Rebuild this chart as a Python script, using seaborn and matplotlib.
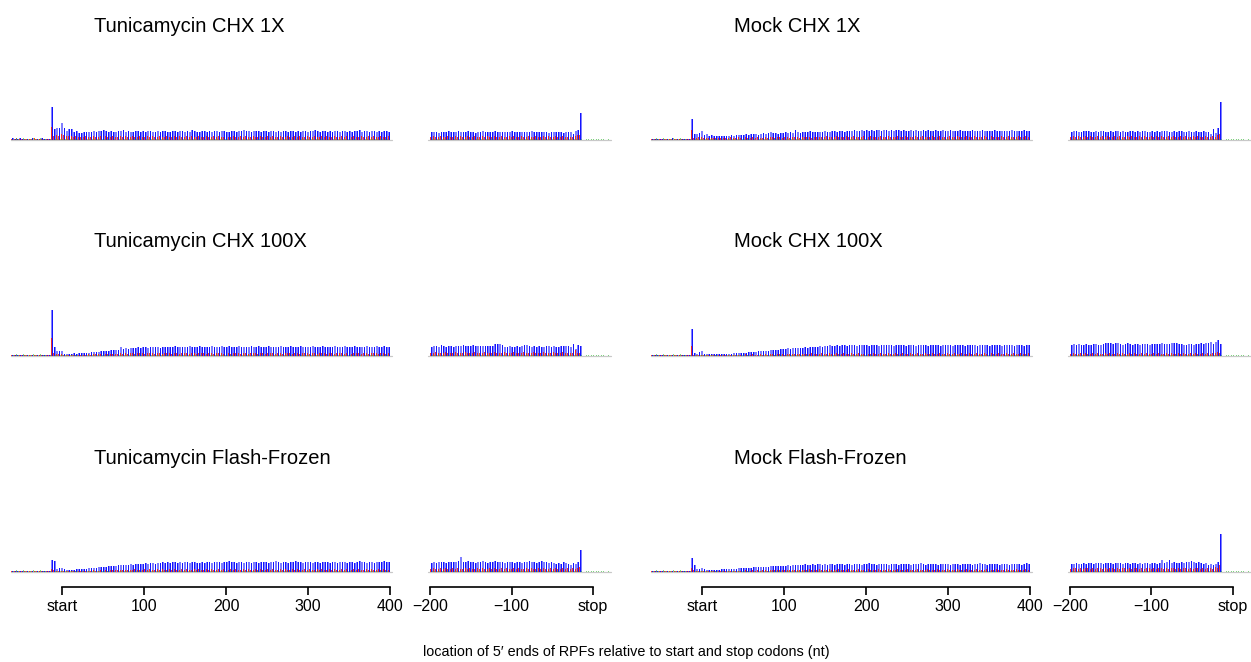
import numpy as np
import pandas as pd
import matplotlib
matplotlib.use("Agg")
import matplotlib.pyplot as plt
import seaborn as sns

# ---------------- data (per-codon footprint density, arbitrary units) ----------------
# start-aligned panels: codons c = -20 .. 133  (blue = nt 3c, red = nt 3c-1, green = nt 3c+1)
# stop-aligned panels : codons ending at c = 7 (blue = nt 3c ...)
TITLES = ["Tunicamycin CHX 1X", "Mock CHX 1X",
          "Tunicamycin CHX 100X", "Mock CHX 100X",
          "Tunicamycin Flash-Frozen", "Mock Flash-Frozen"]

START_TICKS = [0, 100, 200, 300, 400]
START_LABELS = ["start", "100", "200", "300", "400"]
STOP_TICKS = [-200, -100, 0]
STOP_LABELS = ["\u2212200", "\u2212100", "stop"]
XLABEL = "location of 5\u2032 ends of RPFs relative to start and stop codons (nt)"

GREEN_START = [1, 2, 1, 1, 2, 1, 1, 1, 2, 1, 1, 2, 1, 1, 1, 1,
               1, 1, 1, 1, 1, 1, 1, 1, 1, 1, 1, 1, 1, 1, 1, 1, 1, 1, 1, 1, 1, 1, 1, 1, 1, 1, 1, 1, 1, 1,
               1, 1, 1, 1, 1, 1, 1, 1, 1, 1, 1, 1, 1, 1, 1, 1, 1, 1, 1, 1, 1, 1, 1, 1, 1, 1, 1, 1, 1, 1,
               1, 1, 1, 1, 1, 1, 1, 1, 1, 1, 1, 1, 1, 1, 1, 1, 1, 1, 1, 1, 1, 1, 1, 1, 1, 1, 1, 1, 1, 1,
               1, 1, 1, 1, 1, 1, 1, 1, 1, 1, 1, 1, 1, 1, 1, 1, 1, 1, 1, 1, 1, 1, 1, 1, 1, 1, 1, 1, 1, 1,
               1, 1, 1, 1, 1, 1, 1, 1, 1, 1, 1, 1, 1, 1, 1, 1, 1, 1]
GREEN_STOP = [1, 1, 1, 1, 1, 1, 1, 1, 1, 1, 1, 1, 1, 1, 1, 1, 1, 1, 1, 1, 1, 1, 1, 1, 1, 1, 1, 1, 1, 1,
              1, 1, 1, 1, 1, 1, 1, 1, 1, 1, 1, 1, 1, 1, 1, 1, 1, 1, 1, 1, 1, 1, 1, 1, 1, 1, 1, 1, 1, 1,
              1, 1, 1, 1, 1, 1, 1, 1, 1, 1, 1, 1, 1, 1]

# ---- Tunicamycin CHX 1X ----
A_START_BLUE = [2, 1, 1, 2, 1, 1, 1, 1, 2, 1, 1, 1, 2, 1, 1, 1,
                33, 11, 12, 12, 17, 12, 9, 11, 11, 8, 9, 7, 7,
                8, 8, 8, 8, 9, 8, 9, 9, 10, 9, 8, 9, 8, 8, 9, 9, 10, 8, 9, 8,
                8, 9, 9, 8, 9, 8, 9, 9, 8, 8, 9, 8, 9, 9, 8, 8, 9, 9, 8, 9,
                9, 8, 9, 8, 10, 9, 8, 8, 9, 9, 8, 9, 8, 9, 9, 8, 9, 9, 8, 8,
                9, 9, 8, 9, 9, 10, 9, 9, 8, 9, 9, 9, 8, 9, 9, 8, 9, 9, 8, 9,
                8, 9, 9, 8, 9, 9, 8, 9, 8, 9, 9, 8, 9, 9, 10, 9, 8, 9, 9, 8,
                9, 8, 9, 9, 8, 9, 9, 8, 9, 8, 9, 9, 10, 8, 9, 9, 8, 9, 9, 8,
                9, 8, 9, 9, 8]
A_START_RED = [1, 1, 2, 1, 1, 1, 1, 1, 1, 2, 1, 1, 1, 1, 1, 1,
               13, 4, 5, 4, 6, 5, 4, 4, 4, 3, 4, 3, 3,
               3, 4, 3, 3, 4, 3, 3, 4, 3, 4, 3, 3, 4, 3, 3, 4, 3, 4, 3, 3,
               4, 3, 3, 4, 3, 3, 4, 3, 4, 3, 3, 4, 3, 3, 4, 3, 3, 4, 3, 4,
               3, 3, 4, 3, 4, 3, 3, 4, 3, 3, 4, 3, 3, 4, 3, 4, 3, 3, 4, 3,
               3, 4, 3, 3, 4, 3, 4, 3, 3, 4, 3, 3, 4, 3, 3, 4, 3, 4, 3, 3,
               4, 3, 3, 4, 3, 3, 4, 3, 4, 3, 3, 4, 3, 3, 4, 3, 3, 4, 3, 4,
               3, 3, 4, 3, 3, 4, 3, 4, 3, 3, 4, 3, 3, 4, 3, 3, 4, 3, 4, 3,
               3, 4, 3, 3, 4]
A_STOP_BLUE = [8, 8, 8, 7, 8, 8, 8, 9, 8, 8, 8, 9, 8, 8, 8, 9, 8, 8, 7, 8,
               8, 9, 8, 8, 8, 8, 9, 8, 8, 8, 8, 8, 8, 9, 8, 8, 8, 8, 8, 8,
               8, 9, 8, 8, 8, 8, 8, 8, 7, 8, 8, 8, 8, 8, 7, 8, 8,
               8, 6, 9, 10, 27,
               0, 0, 0, 0, 0, 0, 0, 0, 0, 0, 0, 0]
A_STOP_RED = [3, 4, 3, 3, 4, 3, 3, 4, 3, 3, 4, 3, 4, 3, 3, 4, 3, 3, 4, 3,
              3, 4, 3, 4, 3, 3, 4, 3, 3, 4, 3, 3, 4, 3, 4, 3, 3, 4, 3, 3,
              4, 3, 3, 4, 3, 3, 4, 3, 4, 3, 3, 4, 3, 3, 4, 3, 3,
              3, 3, 4, 5, 5,
              0, 0, 0, 0, 0, 0, 0, 0, 0, 0, 0, 0]

# ---- Mock CHX 1X ----
B_START_BLUE = [1, 1, 1, 1, 1, 1, 1, 1, 2, 1, 1, 1, 1, 1, 1, 1,
                21, 6, 6, 7, 9, 5, 6, 4, 5, 4, 4, 4, 4,
                4, 4, 4, 5, 4, 5, 5, 5, 5, 6, 5, 6, 6, 6, 5, 6, 7, 6, 7, 8,
                7, 7, 6, 7, 7, 8, 7, 8, 7, 10, 8, 7, 8, 8, 8, 9, 8, 8, 8, 8,
                8, 9, 8, 8, 9, 9, 8, 9, 9, 8, 9, 9, 9, 10, 9, 9, 10, 9, 10, 9,
                10, 9, 10, 10, 9, 10, 10, 9, 10, 9, 10, 10, 9, 10, 9, 9, 10, 9, 10, 9,
                9, 10, 9, 10, 9, 9, 10, 9, 9, 10, 9, 9, 10, 9, 9, 9, 10, 9, 9, 9,
                9, 10, 9, 9, 9, 10, 9, 9, 9, 9, 10, 9, 9, 9, 9, 9, 9, 10, 9, 9,
                9, 9, 10, 9, 9]
B_START_RED = [1, 1, 1, 1, 1, 1, 1, 1, 1, 1, 1, 1, 1, 1, 1, 1,
               10, 2, 2, 3, 3, 2, 2, 2, 2, 2, 2, 2, 2,
               2, 2, 2, 3, 2, 2, 3, 2, 2, 3, 2, 2, 3, 2, 3, 2, 2, 3, 2, 3,
               3, 2, 3, 3, 2, 3, 3, 2, 3, 3, 3, 2, 3, 3, 3, 3, 2, 3, 3, 3,
               3, 3, 4, 3, 3, 3, 4, 3, 3, 3, 4, 3, 3, 4, 3, 3, 3, 4, 3, 3,
               4, 3, 3, 3, 4, 3, 3, 4, 3, 3, 3, 4, 3, 3, 4, 3, 3, 3, 4, 3,
               3, 4, 3, 3, 3, 4, 3, 3, 4, 3, 3, 3, 4, 3, 3, 4, 3, 3, 3, 4,
               3, 3, 4, 3, 3, 3, 4, 3, 3, 4, 3, 3, 3, 4, 3, 3, 4, 3, 3, 3,
               4, 3, 3, 4, 3]
B_STOP_BLUE = [8, 9, 9, 8, 8, 9, 9, 9, 8, 8, 9, 8, 9, 9, 8, 8, 9, 8, 9, 9,
               8, 9, 8, 8, 9, 9, 8, 9, 8, 9, 9, 8, 8, 9, 8, 9, 8, 9, 9, 9,
               8, 8, 9, 8, 9, 9, 8, 8, 9, 8, 8, 9, 8, 8, 9, 8,
               8, 6, 11, 7, 12, 38,
               0, 0, 0, 0, 0, 0, 0, 0, 0, 0, 0, 0]
B_STOP_RED = [3, 4, 3, 4, 3, 3, 4, 3, 4, 3, 3, 4, 3, 4, 3, 4, 3, 3, 4, 3,
              4, 3, 3, 4, 3, 4, 3, 3, 4, 3, 4, 3, 3, 4, 3, 4, 3, 4, 3, 3,
              4, 3, 4, 3, 3, 4, 3, 4, 3, 3, 4, 3, 4, 3, 3, 4,
              3, 3, 4, 3, 5, 6,
              0, 0, 0, 0, 0, 0, 0, 0, 0, 0, 0, 0]

# ---- Tunicamycin CHX 100X ----
C_START_BLUE = [1, 1, 1, 1, 1, 1, 1, 1, 1, 1, 1, 1, 1, 1, 1, 1,
                46, 9, 5, 5, 5,
                2, 2, 2, 2, 3, 2, 3, 3, 3, 3, 3, 4, 4, 4, 4, 5, 5, 5, 5, 6, 6, 6, 6, 9, 7, 8, 7, 8,
                8, 8, 9, 8, 9, 9, 8, 9, 9, 9, 9, 8, 9, 9, 9, 9, 9, 10, 9, 9,
                9, 9, 9, 10, 9, 9, 9, 10, 9, 9, 9, 9, 10, 9, 9, 9, 10, 9, 9, 10,
                9, 9, 9, 10, 9, 9, 9, 9, 10, 9, 9, 10, 9, 9, 9, 10, 9, 9, 9, 9,
                10, 9, 9, 9, 10, 9, 9, 9, 10, 9, 9, 9, 9, 10, 9, 9, 9, 10, 9, 9,
                9, 9, 10, 9, 9, 9, 10, 9, 9, 9, 10, 9, 9, 9, 9, 10, 9, 9, 9, 10,
                9, 9, 10, 9, 9]
C_START_RED = [1, 1, 1, 1, 1, 1, 1, 1, 1, 1, 1, 1, 1, 1, 1, 1,
               18, 3, 2, 2, 2,
               1, 1, 1, 1, 1, 1, 1, 1, 1, 1, 2, 1, 2, 2, 2, 2, 2, 2, 2, 2, 2, 2, 2, 3, 2, 3, 2, 3,
               3, 2, 3, 3, 3, 2, 3, 3, 3, 2, 3, 3, 2, 3, 3, 3, 2, 3, 3, 2,
               3, 3, 3, 2, 3, 3, 2, 3, 3, 3, 2, 3, 3, 2, 3, 3, 3, 2, 3, 3,
               2, 3, 3, 3, 2, 3, 3, 2, 3, 3, 3, 2, 3, 3, 2, 3, 3, 3, 2, 3,
               3, 2, 3, 3, 3, 2, 3, 3, 2, 3, 3, 3, 2, 3, 3, 2, 3, 3, 3, 2,
               3, 3, 2, 3, 3, 3, 2, 3, 3, 2, 3, 3, 3, 2, 3, 3, 2, 3, 3, 3,
               2, 3, 3, 2, 3]
C_STOP_BLUE = [9, 10, 10, 9, 11, 10, 9, 10, 10, 9, 10, 10, 10, 11, 10, 10, 10, 11, 10, 10,
               10, 10, 10, 10, 10, 10, 12, 12, 12, 11, 9, 9, 10, 9, 9, 10, 9, 10, 11, 11,
               10, 9, 10, 9, 10, 9, 9, 10, 10, 9, 10, 9, 9, 10, 10, 10, 10,
               9, 12, 7, 11, 10,
               0, 0, 0, 0, 0, 0, 0, 0, 0, 0, 0, 0]
C_STOP_RED = [3, 3, 4, 3, 3, 3, 4, 3, 3, 3, 4, 3, 3, 3, 4, 3, 3, 3, 4, 3,
              3, 3, 4, 3, 3, 3, 4, 3, 3, 3, 4, 3, 3, 3, 4, 3, 3, 3, 4, 3,
              3, 3, 4, 3, 3, 3, 4, 3, 3, 3, 4, 3, 3, 3, 4, 3, 3,
              3, 3, 6, 3, 3,
              0, 0, 0, 0, 0, 0, 0, 0, 0, 0, 0, 0]

# ---- Mock CHX 100X ----
D_START_BLUE = [1, 1, 1, 1, 1, 1, 1, 1, 1, 1, 1, 1, 1, 1, 1, 1,
                27, 3, 2, 4, 5, 2,
                2, 2, 2, 2, 2, 2, 2, 2, 2, 2, 2, 3, 3, 3, 3, 3, 3, 4, 4, 4, 4, 5, 5, 5,
                5, 5, 6, 6, 6, 6, 7, 7, 7, 8, 7, 8, 8, 8, 8, 8, 9, 8, 9, 9, 9, 9, 10, 9,
                10, 10, 11, 10, 10, 11, 10, 11, 11, 10, 11, 11, 11, 10, 11, 11, 11, 11, 10, 11,
                11, 11, 10, 11, 11, 11, 11, 11, 10, 11, 11, 11, 11, 10, 11, 11, 11, 10, 11, 11,
                11, 11, 10, 11, 11, 11, 11, 10, 11, 11, 11, 11, 10, 11, 11, 11, 11, 10, 11, 11,
                11, 11, 10, 11, 11, 11, 11, 10, 11, 11, 11, 11, 10, 11, 11, 11, 11, 10, 11, 11,
                11, 10, 11, 11]
D_START_RED = [1, 1, 1, 1, 1, 1, 1, 1, 1, 1, 1, 1, 1, 1, 1, 1,
               10, 1, 1, 1, 1, 1,
               1, 1, 1, 1, 1, 1, 1, 1, 1, 1, 1, 1, 1, 1, 1, 1, 2, 1, 1, 2, 1, 1, 2, 1,
               2, 1, 2, 2, 1, 2, 2, 2, 1, 2, 2, 2, 2, 2, 2, 2, 2, 2, 2, 3, 2, 2, 2, 3,
               2, 2, 3, 2, 2, 3, 2, 2, 3, 2, 2, 3, 2, 2, 3, 2, 2, 3, 2, 2,
               3, 2, 2, 3, 2, 2, 3, 2, 2, 3, 2, 2, 3, 2, 2, 3, 2, 2, 3, 2,
               2, 3, 2, 2, 3, 2, 2, 3, 2, 2, 3, 2, 2, 3, 2, 2, 3, 2, 2, 3,
               2, 2, 3, 2, 2, 3, 2, 2, 3, 2, 2, 3, 2, 2, 3, 2, 2, 3, 2, 2,
               3, 2, 2, 3]
D_STOP_BLUE = [11, 12, 11, 12, 11, 11, 12, 11, 11, 12, 12, 11, 11, 12, 13, 13, 13, 12, 13, 13,
               12, 11, 12, 13, 12, 11, 12, 12, 11, 12, 12, 12, 11, 12, 12, 12, 12, 13, 12, 12,
               12, 13, 13, 13, 12, 12, 11, 11, 12, 12, 11, 12, 12, 13, 12, 13, 13, 14,
               12, 14, 16, 12,
               0, 0, 0, 0, 0, 0, 0, 0, 0, 0, 0, 0]
D_STOP_RED = [2, 3, 2, 2, 3, 2, 3, 2, 2, 3, 2, 3, 2, 2, 3, 2, 3, 2, 2, 3,
              2, 3, 2, 2, 3, 2, 3, 2, 2, 3, 2, 3, 2, 2, 3, 2, 3, 2, 2, 3,
              2, 3, 2, 2, 3, 2, 3, 2, 2, 3, 2, 3, 2, 2, 3, 2, 3, 2,
              3, 3, 4, 3,
              0, 0, 0, 0, 0, 0, 0, 0, 0, 0, 0, 0]

# ---- Tunicamycin Flash-Frozen ----
E_START_BLUE = [1, 1, 1, 1, 1, 1, 1, 1, 1, 1, 1, 1, 1, 1, 1, 1,
                12, 11, 3, 4, 4, 3, 2,
                2, 2, 2, 3, 3, 3, 3, 3, 4, 4, 4, 4, 5, 5, 5, 5, 6, 6, 6, 6,
                7, 7, 7, 7, 7, 8, 7, 8, 8, 8, 8, 9, 8,
                9, 9, 8, 9, 9, 10, 9, 10, 9, 10, 10, 9, 10, 9, 10, 10, 9, 10, 10, 9,
                9, 10, 9, 10, 10, 9, 10, 10, 10, 9, 10, 10, 11, 10, 10, 9, 10, 10, 9, 10,
                10, 9, 10, 10, 9, 10, 10, 10, 9, 10, 10, 11, 10, 9, 10, 10, 9, 10, 10, 11,
                10, 10, 9, 10, 10, 10, 9, 10, 10, 9, 10, 10, 10, 9, 10, 10, 9, 10, 10, 10,
                9, 10, 10, 9, 10, 11, 10, 10, 9, 10, 10, 9, 10, 10, 10, 11, 10, 10]
E_START_RED = [1, 1, 1, 1, 1, 1, 1, 1, 1, 1, 1, 1, 1, 1, 1, 1,
               3, 2, 1, 1, 1, 1, 1,
               1, 1, 1, 1, 1, 1, 1, 1, 1, 1, 2, 1, 1, 2, 1, 2, 1, 2, 2, 2,
               2, 2, 2, 2, 2, 2, 2, 3, 2, 2, 2, 3, 2,
               3, 2, 2, 3, 2, 3, 2, 2, 3, 2, 3, 2, 2, 3, 2, 3, 2, 2, 3, 2,
               3, 2, 2, 3, 2, 3, 2, 2, 3, 2, 3, 2, 2, 3, 2, 3, 2, 2, 3, 2,
               3, 2, 2, 3, 2, 3, 2, 2, 3, 2, 3, 2, 2, 3, 2, 3, 2, 2, 3, 2,
               3, 2, 2, 3, 2, 3, 2, 2, 3, 2, 3, 2, 2, 3, 2, 3, 2, 2, 3, 2,
               3, 2, 2, 3, 2, 3, 2, 2, 3, 2, 3, 2, 2, 3, 2, 3, 2, 2]
E_STOP_BLUE = [9, 10, 9, 10, 10, 10, 9, 10, 10, 10, 10, 11, 15, 10, 10, 11, 10, 10, 9, 10,
               10, 11, 10, 9, 10, 10, 11, 10, 10, 10, 9, 10, 10, 10, 9, 10, 10, 9, 10, 10,
               11, 10, 10, 9, 10, 11, 10, 10, 9, 10, 9, 8, 9, 8, 10, 9, 8,
               7, 9, 8, 10, 22,
               0, 0, 0, 0, 0, 0, 0, 0, 0, 0, 0, 0]
E_STOP_RED = [3, 4, 3, 3, 4, 3, 4, 3, 3, 4, 3, 4, 3, 3, 4, 3, 4, 3, 3, 4,
              3, 4, 3, 3, 4, 3, 4, 3, 3, 4, 3, 4, 3, 3, 4, 3, 4, 3, 3, 4,
              3, 4, 3, 3, 4, 3, 4, 3, 3, 4, 3, 4, 3, 3, 4, 3, 4,
              3, 4, 3, 4, 5,
              0, 0, 0, 0, 0, 0, 0, 0, 0, 0, 0, 0]

# ---- Mock Flash-Frozen ----
F_START_BLUE = [1, 1, 1, 1, 1, 1, 1, 1, 1, 1, 1, 1, 1, 1, 1, 1,
                14, 7, 3, 3, 4, 3,
                2, 2, 2, 2, 2, 2, 3, 3, 3, 3, 3, 3, 3, 4, 4, 4, 4, 4, 4, 5,
                5, 5, 5, 5, 5, 5, 6, 6, 6, 6, 6, 6, 6, 7, 6, 7, 7, 7, 7,
                7, 8, 7, 7, 8, 7, 8, 8, 7, 8, 7, 8, 8, 7, 8, 8, 8, 7, 8, 8,
                7, 8, 8, 8, 7, 8, 8, 9, 8, 8, 7, 8, 8, 8, 8, 7, 8, 8, 8, 7,
                8, 8, 8, 8, 7, 8, 8, 8, 9, 8, 7, 8, 8, 8, 8, 7, 8, 8, 8, 8,
                7, 8, 8, 8, 7, 8, 8, 8, 8, 7, 8, 8, 9, 8, 8, 7, 8, 8, 8, 8,
                7, 8, 8, 8, 7, 8, 8, 8, 8, 7, 8, 9, 8]
F_START_RED = [1, 1, 1, 1, 1, 1, 1, 1, 1, 1, 1, 1, 1, 1, 1, 1,
               4, 2, 1, 1, 1, 1,
               1, 1, 1, 1, 1, 1, 1, 1, 1, 1, 1, 1, 1, 1, 1, 1, 2, 1, 1, 2,
               1, 2, 1, 2, 2, 1, 2, 2, 2, 2, 2, 2, 2, 2, 2, 2, 2, 2, 2,
               2, 2, 2, 3, 2, 2, 2, 3, 2, 2, 2, 3, 2, 2, 2, 3, 2, 2, 2, 3,
               2, 2, 2, 3, 2, 2, 2, 3, 2, 2, 2, 3, 2, 2, 2, 3, 2, 2, 2, 3,
               2, 2, 2, 3, 2, 2, 2, 3, 2, 2, 2, 3, 2, 2, 2, 3, 2, 2, 2, 3,
               2, 2, 2, 3, 2, 2, 2, 3, 2, 2, 2, 3, 2, 2, 2, 3, 2, 2, 2, 3,
               2, 2, 2, 3, 2, 2, 2, 3, 2, 2, 2, 3, 2]
F_STOP_BLUE = [8, 8, 9, 8, 8, 9, 8, 9, 9, 8, 9, 9, 9, 8, 9, 9, 9, 8, 9, 9,
               9, 8, 9, 9, 8, 9, 9, 8, 9, 8, 9, 9, 8, 9, 9, 8, 9, 12, 9, 10,
               12, 9, 10, 9, 9, 10, 9, 10, 10, 11, 10, 9, 10, 9, 8, 9, 7,
               8, 7, 8, 10, 38,
               0, 0, 0, 0, 0, 0, 0, 0, 0, 0, 0, 0]
F_STOP_RED = [3, 4, 4, 3, 4, 3, 4, 4, 3, 4, 3, 4, 4, 3, 4, 3, 4, 4, 3, 4,
              3, 4, 4, 3, 4, 3, 4, 4, 3, 4, 3, 4, 4, 3, 4, 3, 4, 4, 3, 4,
              3, 4, 4, 3, 4, 3, 4, 4, 3, 4, 3, 4, 4, 3, 4, 3, 4,
              4, 3, 5, 4, 7,
              0, 0, 0, 0, 0, 0, 0, 0, 0, 0, 0, 0]

PANELS = [
    (A_START_BLUE, A_START_RED, A_STOP_BLUE, A_STOP_RED),
    (B_START_BLUE, B_START_RED, B_STOP_BLUE, B_STOP_RED),
    (C_START_BLUE, C_START_RED, C_STOP_BLUE, C_STOP_RED),
    (D_START_BLUE, D_START_RED, D_STOP_BLUE, D_STOP_RED),
    (E_START_BLUE, E_START_RED, E_STOP_BLUE, E_STOP_RED),
    (F_START_BLUE, F_START_RED, F_STOP_BLUE, F_STOP_RED),
]

# ---------------- styling / layout ----------------
sns.set_theme(style="ticks")
plt.rcParams["font.family"] = ["Liberation Sans", "DejaVu Sans"]

W, H = 1251, 662
fig = plt.figure(figsize=(W / 100, H / 100), dpi=100)

BLUE = "#0000ff"
RED = "#ff2200"
GREEN = "#33bb33"
YMAX = 60           # axes height 60 px
ROW_BASE = [140, 355.7, 572]
COL_OFF = [0, 640]
START_XLIM = (-62, 402)
STOP_XLIM = (-202, 22)
START_PX0, START_K = 62.0, 0.82   # pixel of nt 0 and px per nt
STOP_PX0, STOP_K = 593.0, 0.815


def make_axes(px0, k, xlim, off, base):
    x0 = px0 + k * xlim[0] + off
    x1 = px0 + k * xlim[1] + off
    return fig.add_axes([x0 / W, 1 - base / H, (x1 - x0) / W, YMAX / H])


def bars(ax, pos, vals, color, width, alpha, z):
    d = pd.DataFrame({"pos": pos, "v": vals})
    sns.barplot(data=d, x="pos", y="v", native_scale=True, width=width,
                color=color, alpha=alpha, errorbar=None, linewidth=0,
                saturation=1, ax=ax, zorder=z)


def draw_profile(ax, codons, blue, red, green):
    # widths are fractions of the 3-nt spacing between bars of one frame
    bars(ax, 3 * codons, blue, BLUE, 0.72, 0.5, 2)
    bars(ax, 3 * codons, blue, BLUE, 0.3, 0.85, 3)
    bars(ax, 3 * codons - 1, red, RED, 0.4, 0.85, 4)
    bars(ax, 3 * codons + 1, green, GREEN, 0.35, 0.6, 5)


def style_axes(ax, xlim, bottom, ticks=None, labels=None, bounds=None):
    ax.set_xlim(*xlim)
    ax.set_ylim(0, YMAX)
    ax.axhline(0, color="#c8c8c8", lw=0.9, zorder=1, clip_on=False)
    ax.set_ylabel("")
    ax.set_xlabel("")
    ax.set_yticks([])
    ax.patch.set_alpha(0)
    for s in ["left", "right", "top"]:
        ax.spines[s].set_visible(False)
    if bottom:
        sp = ax.spines["bottom"]
        sp.set_position(("outward", 10.8))
        sp.set_bounds(bounds[0], bounds[1])
        sp.set_color("black")
        sp.set_linewidth(1.2)
        ax.set_xticks(ticks)
        ax.set_xticklabels(labels)
        ax.tick_params(axis="x", length=6, width=1.2, color="black",
                       labelsize=11.5, pad=2.5, labelcolor="black")
    else:
        ax.spines["bottom"].set_visible(False)
        ax.set_xticks([])


for i, (sb, sr, tb, tr) in enumerate(PANELS):
    row, col = divmod(i, 2)
    base = ROW_BASE[row]
    off = COL_OFF[col]
    bottom = row == 2

    ax1 = make_axes(START_PX0, START_K, START_XLIM, off, base)
    c1 = np.arange(-20, -20 + len(sb))
    draw_profile(ax1, c1, sb, sr, GREEN_START[:len(sb)])
    style_axes(ax1, START_XLIM, bottom, START_TICKS, START_LABELS, (0, 400))

    ax2 = make_axes(STOP_PX0, STOP_K, STOP_XLIM, off, base)
    c2 = np.arange(8 - len(tb), 8)
    draw_profile(ax2, c2, tb, tr, GREEN_STOP[-len(tb):])
    style_axes(ax2, STOP_XLIM, bottom, STOP_TICKS, STOP_LABELS, (-200, 0))

    fig.text((94 + off) / W, 1 - (base - 114) / H, TITLES[i],
             ha="left", va="center", fontsize=14.5, color="black")

fig.text(626 / W, 1 - 652 / H, XLABEL, ha="center", va="center",
         fontsize=10.4, color="black")

fig.savefig("out.png", dpi=100)
